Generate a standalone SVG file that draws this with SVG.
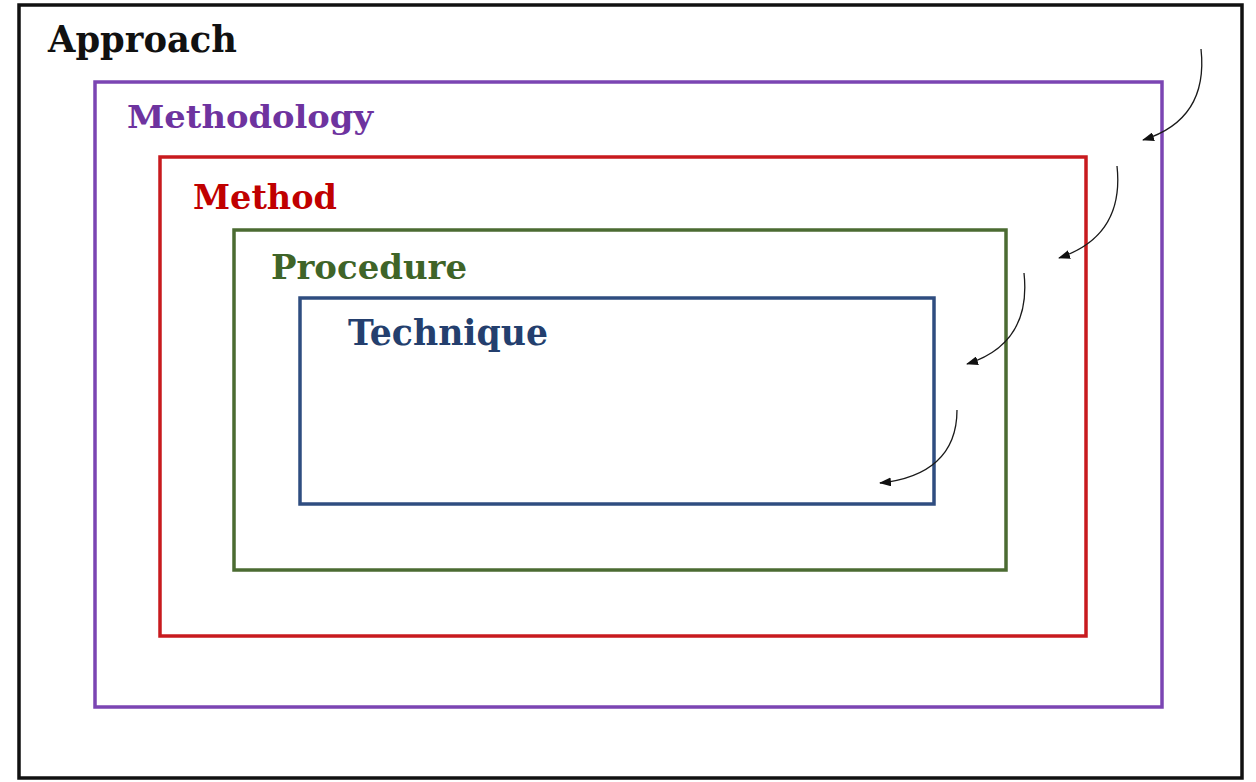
<svg xmlns="http://www.w3.org/2000/svg" width="1256" height="782" viewBox="0 0 1256 782">
<style>
.lbl{font-family:"DejaVu Serif","Liberation Serif",serif;font-weight:bold;}
.box{fill:none;stroke-width:3.5;}
.arr{fill:none;stroke:#1a1a1a;stroke-width:1.3;marker-end:url(#ah);}
</style>
<defs>
<marker id="ah" viewBox="0 0 12 9" refX="11" refY="4.5" markerWidth="12" markerHeight="9" markerUnits="userSpaceOnUse" orient="auto">
<path d="M0,0 L12,4.5 L0,9 Z" fill="#111"/>
</marker>
</defs>
<rect width="1256" height="782" fill="#fff"/>
<g id="approach">
<rect class="box" x="19" y="5" width="1223" height="773" stroke="#111" stroke-width="4"/>
<text class="lbl" x="48" y="52" font-size="37" fill="#111" textLength="189" lengthAdjust="spacingAndGlyphs">Approach</text>
</g>
<g id="methodology">
<rect class="box" x="95" y="82" width="1067" height="625" stroke="#7B45B3"/>
<text class="lbl" x="127" y="128" font-size="32" fill="#6E339F" textLength="246" lengthAdjust="spacingAndGlyphs">Methodology</text>
</g>
<g id="method">
<rect class="box" x="160" y="157" width="926" height="479" stroke="#C81A1E"/>
<text class="lbl" x="193" y="209" font-size="33" fill="#C00000" textLength="144" lengthAdjust="spacingAndGlyphs">Method</text>
</g>
<g id="procedure">
<rect class="box" x="234" y="230" width="772" height="340" stroke="#4B6B32"/>
<text class="lbl" x="271" y="279" font-size="33" fill="#3F6428" textLength="196" lengthAdjust="spacingAndGlyphs">Procedure</text>
</g>
<g id="technique">
<rect class="box" x="300" y="298" width="634" height="206" stroke="#2F4D80"/>
<text class="lbl" x="348" y="345" font-size="35" fill="#243F6E" textLength="200" lengthAdjust="spacingAndGlyphs">Technique</text>
</g>
<g id="connectors">
<path class="arr" d="M1201,49 C1206,95 1188,126 1143,140"/>
<path class="arr" d="M1117,166 C1122,212 1104,243 1059,258"/>
<path class="arr" d="M1024,273 C1029,319 1011,350 967,364"/>
<path class="arr" d="M957,410 C957,455 928,478 880,483"/>
</g>
</svg>
